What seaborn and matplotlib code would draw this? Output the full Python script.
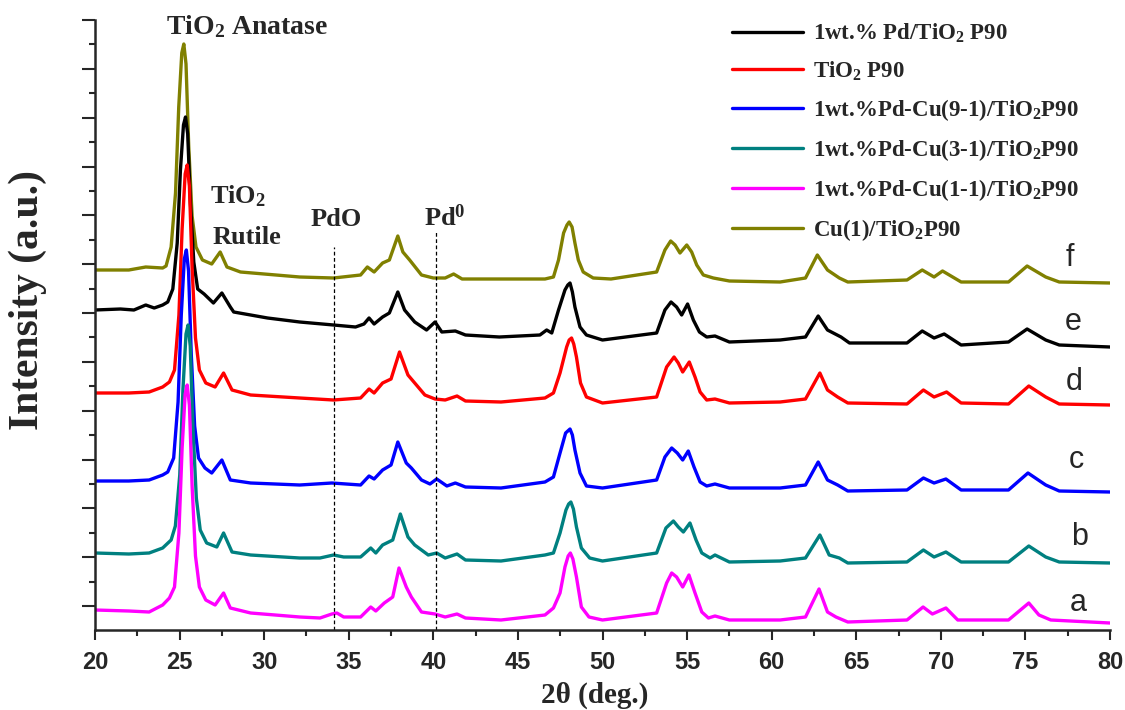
import numpy as np
import pandas as pd
import matplotlib
matplotlib.use("Agg")
import matplotlib.pyplot as plt
import seaborn as sns
from matplotlib.lines import Line2D
from matplotlib.ticker import MultipleLocator

# ---------------- data (2theta in deg, intensity in a.u., offset traces) ----------------
# a : 1wt.%Pd-Cu(1-1)/TiO2P90 (magenta)
theta_a = [20, 22, 23.2, 24.0, 24.4, 24.7, 24.96, 25.15, 25.33, 25.45,
           25.58, 25.74, 25.94, 26.17, 26.55, 27.1, 27.6, 28.0, 29.2, 32.1,
           33.3, 34.0, 34.3, 34.7, 35.7, 36.3, 36.6, 37.1, 37.6, 37.97,
           38.4, 38.7, 39.3, 40.1, 40.7, 41.4, 41.9, 44.0, 46.6, 47.1,
           47.49, 47.78, 47.97, 48.1, 48.25, 48.46, 48.75, 49.2, 50.0, 53.2,
           53.79, 54.09, 54.38, 54.74, 55.11, 55.47, 55.87, 56.26, 56.65, 57.5,
           60.5, 62.0, 62.8, 63.3, 63.8, 64.5, 68.0, 68.95, 69.5, 70.3,
           71.0, 74.0, 75.2, 75.8, 76.5, 80]
int_a = [-4, -5, -6, 1, 8, 19, 73, 158, 212, 221,
         201, 120, 50, 19, 6, 1, 13, -2, -7, -11,
         -12, -8, -7, -11, -11, -1, -5, 3, 9, 38,
         19, 9, -6, -8, -11, -8, -12, -14, -9, -2,
         13, 39, 50, 53, 47, 29, -1, -11, -14, -7,
         23, 33, 29, 19, 31, 13, -6, -12, -10, -14,
         -14, -11, 17, -6, -11, -16, -14, -1, -8, -2,
         -14, -14, 3, -9, -14, -17]

# b : 1wt.%Pd-Cu(3-1)/TiO2P90 (teal)
theta_b = [20, 22, 23.2, 24.0, 24.5, 24.75, 25.01, 25.2, 25.38, 25.5,
           25.63, 25.79, 25.99, 26.22, 26.6, 27.2, 27.6, 28.1, 29.2, 32.1,
           33.3, 34.1, 34.7, 35.7, 36.3, 36.6, 37.0, 37.6, 38.05, 38.5,
           38.9, 39.7, 40.2, 40.7, 41.4, 41.9, 44.0, 46.6, 47.1, 47.49,
           47.84, 48.0, 48.13, 48.28, 48.46, 48.75, 49.24, 50.0, 53.2, 53.75,
           54.19, 54.48, 54.78, 55.17, 55.53, 55.87, 56.36, 56.65, 57.5, 60.5,
           62.0, 62.85, 63.4, 64.0, 64.5, 68.0, 68.97, 69.6, 70.3, 71.2,
           74.0, 75.2, 76.2, 77.0, 80]
int_b = [53, 52, 53, 58, 66, 80, 131, 217, 272, 281,
         260, 178, 108, 76, 63, 59, 73, 54, 51, 48,
         48, 51, 49, 49, 58, 53, 61, 66, 92, 69,
         61, 51, 53, 48, 52, 46, 45, 51, 53, 73,
         96, 102, 104, 97, 79, 58, 48, 45, 53, 78,
         85, 79, 74, 83, 66, 53, 48, 51, 44, 45,
         48, 71, 51, 48, 43, 44, 56, 49, 54, 44,
         44, 60, 49, 44, 43]

# c : 1wt.%Pd-Cu(9-1)/TiO2P90 (blue)
theta_c = [20, 22, 23.2, 24.0, 24.3, 24.65, 24.91, 25.1, 25.28, 25.4,
           25.53, 25.69, 25.89, 26.12, 26.5, 26.9, 27.5, 28.0, 29.2, 32.1,
           34.0, 35.7, 36.2, 36.5, 37.0, 37.5, 37.9, 38.4, 38.7, 39.3,
           39.8, 40.2, 40.8, 41.3, 41.9, 44.0, 46.6, 47.1, 47.49, 47.82,
           48.08, 48.22, 48.37, 48.67, 49.05, 50.0, 53.2, 53.69, 54.09, 54.42,
           54.74, 55.07, 55.41, 55.77, 56.16, 56.65, 57.5, 60.5, 62.0, 62.75,
           63.3, 63.9, 64.5, 68.0, 68.97, 69.6, 70.3, 71.2, 74.0, 75.15,
           76.2, 77.0, 80]
int_c = [125, 125, 126, 131, 134, 148, 204, 291, 347, 356,
         335, 252, 180, 148, 138, 133, 146, 126, 123, 121,
         123, 121, 130, 127, 136, 141, 164, 143, 138, 126,
         122, 127, 120, 123, 119, 118, 124, 129, 153, 173,
         177, 171, 156, 133, 120, 118, 126, 149, 158, 153,
         146, 155, 139, 124, 120, 122, 118, 118, 121, 144,
         126, 121, 115, 116, 128, 123, 127, 116, 116, 133,
         121, 115, 114]

# d : TiO2 P90 (red)
theta_d = [20, 22, 23.2, 24.0, 24.4, 24.7, 24.96, 25.15, 25.33, 25.45,
           25.58, 25.74, 25.94, 26.17, 26.55, 27.1, 27.6, 28.1, 29.2, 32.1,
           34.1, 35.7, 36.2, 36.5, 37.0, 37.5, 38.0, 38.5, 38.9, 39.5,
           40.1, 40.7, 41.4, 41.9, 44.0, 46.6, 47.1, 47.49, 47.88, 48.03,
           48.17, 48.3, 48.46, 48.7, 49.05, 50.0, 53.2, 53.79, 54.23, 54.48,
           54.74, 55.13, 55.47, 55.77, 56.16, 56.65, 57.5, 60.5, 62.0, 62.85,
           63.3, 63.9, 64.5, 68.0, 68.97, 69.6, 70.34, 71.2, 74.0, 75.2,
           76.2, 77.0, 80]
int_d = [213, 213, 214, 219, 224, 236, 291, 377, 432, 441,
         420, 338, 268, 236, 223, 219, 233, 216, 211, 208,
         206, 208, 217, 213, 223, 227, 254, 231, 223, 211,
         207, 206, 210, 205, 204, 208, 213, 233, 259, 266,
         268, 262, 249, 223, 209, 203, 209, 239, 249, 243,
         234, 244, 229, 214, 206, 207, 203, 204, 207, 233,
         216, 209, 203, 202, 216, 209, 214, 203, 202, 220,
         209, 202, 201]

# e : 1wt.% Pd/TiO2 P90 (black)
theta_e = [20, 21.5, 22.3, 23.0, 23.5, 24.0, 24.3, 24.6, 24.86, 25.05,
           25.23, 25.35, 25.48, 25.64, 25.84, 26.07, 26.45, 27.0, 27.5, 28.0,
           28.2, 30.2, 32.1, 34.1, 35.4, 35.9, 36.2, 36.5, 37.0, 37.4,
           37.9, 38.3, 38.9, 39.6, 40.1, 40.5, 41.3, 41.9, 43.9, 46.3,
           46.7, 47.0, 47.4, 47.78, 47.95, 48.08, 48.22, 48.37, 48.67, 49.05,
           50.0, 53.2, 53.69, 54.05, 54.38, 54.68, 55.03, 55.37, 55.73, 56.16,
           56.65, 57.5, 60.5, 62.0, 62.75, 63.3, 64.1, 64.6, 68.0, 68.9,
           69.6, 70.2, 71.2, 74.0, 75.1, 76.2, 77.0, 80]
int_e = [296, 297, 296, 301, 298, 301, 304, 317, 363, 436,
         481, 489, 472, 403, 344, 317, 312, 303, 313, 299,
         294, 288, 284, 281, 279, 282, 288, 282, 289, 293,
         314, 296, 284, 276, 284, 274, 275, 271, 269, 271,
         276, 273, 296, 316, 321, 323, 314, 299, 279, 271,
         266, 273, 296, 304, 299, 291, 302, 286, 274, 269,
         270, 264, 266, 269, 290, 276, 269, 263, 263, 275,
         268, 272, 261, 264, 277, 266, 261, 259]

# f : Cu(1)/TiO2P90 (olive)
theta_f = [20, 22, 23.0, 24.0, 24.2, 24.5, 24.76, 24.95, 25.13, 25.25,
           25.38, 25.54, 25.74, 25.97, 26.35, 26.9, 27.4, 27.8, 28.6, 32.1,
           34.1, 35.7, 36.1, 36.5, 37.0, 37.4, 37.9, 38.2, 38.6, 39.3,
           40.0, 40.7, 41.2, 41.7, 44.1, 46.6, 47.1, 47.4, 47.7, 47.9,
           48.03, 48.2, 48.37, 48.57, 48.86, 49.45, 50.5, 53.2, 53.69, 54.03,
           54.29, 54.58, 54.98, 55.27, 55.57, 55.96, 56.55, 57.5, 60.5, 62.0,
           62.7, 63.3, 64.0, 64.5, 68.0, 68.9, 69.6, 70.1, 71.2, 74.0,
           75.1, 76.2, 77.0, 80]
int_f = [336, 336, 339, 338, 340, 359, 413, 499, 553, 562,
         542, 460, 390, 359, 346, 342, 354, 339, 334, 329,
         328, 331, 339, 334, 343, 346, 370, 354, 346, 331,
         328, 328, 332, 327, 327, 327, 329, 346, 373, 381,
         384, 379, 363, 346, 334, 328, 327, 334, 356, 365,
         361, 353, 361, 354, 341, 331, 328, 325, 324, 328,
         351, 336, 328, 324, 326, 336, 329, 335, 324, 324,
         340, 329, 324, 323]

legend_labels = ["1wt.% Pd/TiO$_2$ P90", "TiO$_2$ P90", "1wt.%Pd-Cu(9-1)/TiO$_2$P90",
                 "1wt.%Pd-Cu(3-1)/TiO$_2$P90", "1wt.%Pd-Cu(1-1)/TiO$_2$P90", "Cu(1)/TiO$_2$P90"]
legend_keys = ["e", "d", "c", "b", "a", "f"]
draw_order = ["f", "e", "d", "c", "b", "a"]
colors = {"a": "#FF00FF", "b": "#008080", "c": "#0000FF", "d": "#FF0000",
          "e": "#000000", "f": "#808000"}
letter_pos_theta = {"f": 77.6, "e": 77.8, "d": 77.9, "c": 78.0, "b": 78.2, "a": 78.1}
letter_pos_int = {"f": 348, "e": 284, "d": 224, "c": 146, "b": 69, "a": 3}

ref_lines_theta = [34.1, 40.15]
ref_lines_top = [359, 374]

series = {"a": (theta_a, int_a), "b": (theta_b, int_b), "c": (theta_c, int_c),
          "d": (theta_d, int_d), "e": (theta_e, int_e), "f": (theta_f, int_f)}

df = pd.concat([pd.DataFrame({"theta": t, "intensity": i, "sample": k})
                for k, (t, i) in series.items()], ignore_index=True)

# ---------------- style ----------------
sns.set_style("ticks")
plt.rcParams['font.family'] = ['Liberation Serif', 'DejaVu Serif']
plt.rcParams['font.weight'] = 'bold'
plt.rcParams['mathtext.fontset'] = 'custom'
plt.rcParams['mathtext.rm'] = 'Liberation Serif:bold'
plt.rcParams['mathtext.bf'] = 'Liberation Serif:bold'
plt.rcParams['mathtext.it'] = 'Liberation Serif:bold'
plt.rcParams['mathtext.default'] = 'bf'

W, H = 1125, 710
fig = plt.figure(figsize=(W / 100, H / 100), dpi=100)
ax = fig.add_axes([95 / W, 80 / H, 1015 / W, 610 / H])

sns.lineplot(data=df, x="theta", y="intensity", hue="sample", hue_order=draw_order,
             palette=colors, sort=False, estimator=None, legend=False, lw=2.4, ax=ax)
for ln in ax.get_lines():
    ln.set_solid_joinstyle("round")

ax.vlines(ref_lines_theta, -24, ref_lines_top, colors="black", linestyles=(0, (3, 2)), lw=0.9)

ax.set_xlim(20, 80)
ax.set_ylim(-24, 586)
ax.xaxis.set_major_locator(MultipleLocator(5))
ax.xaxis.set_minor_locator(MultipleLocator(2.5))
step = 586 / 12
ax.set_yticks(np.arange(0, 587, step))
ax.set_yticks(np.arange(step / 2, 586, step), minor=True)
ax.set_yticklabels([])
ax.set_xlabel("")
ax.set_ylabel("")
sns.despine(ax=ax)
for s in ["left", "bottom"]:
    ax.spines[s].set_linewidth(1.8)
ax.tick_params(axis="x", which="major", length=7, width=1.5, pad=8, direction="out")
ax.tick_params(axis="x", which="minor", length=4, width=1.5, direction="out")
ax.tick_params(axis="y", which="major", length=9.5, width=1.5, direction="out")
ax.tick_params(axis="y", which="minor", length=4, width=1.5, direction="out")
for lab in ax.get_xticklabels():
    lab.set_fontfamily("Liberation Sans")
    lab.set_fontweight("bold")
    lab.set_fontsize(17)

# annotations
tfont = dict(fontsize=19, fontweight="bold", ha="center", va="center")
ax.text(29.0, 579, "TiO$_2$ Anatase", clip_on=False, **dict(tfont, fontsize=20))
ax.text(28.45, 410, "TiO$_2$", **tfont)
ax.text(29.0, 369, "Rutile", **tfont)
ax.text(34.25, 386, "PdO", **tfont)
ax.text(40.69, 388, "Pd$^0$", **tfont)

for k in letter_pos_theta:
    ax.text(letter_pos_theta[k], letter_pos_int[k], k, fontsize=22, family="Liberation Sans",
            fontweight="normal", ha="center", va="center")

handles = [Line2D([], [], color=colors[k], lw=2.4) for k in legend_keys]
fig.legend(handles, legend_labels, loc="upper left", bbox_to_anchor=(732 / W, 1 - 22 / H),
           frameon=False, borderpad=0, borderaxespad=0, handlelength=3.1, handletextpad=0.45,
           labelspacing=0.62, prop={"family": "Liberation Serif", "weight": "bold", "size": 16.5})

fig.text(28 / W, 1 - 300 / H, "Intensity (a.u.)", rotation=90, ha="center", va="center",
         fontsize=30, fontweight="bold")
fig.text(595 / W, 1 - 703 / H, "2θ (deg.)", ha="center", va="baseline", fontsize=21,
         fontweight="bold")

fig.savefig("out.png", dpi=100)
